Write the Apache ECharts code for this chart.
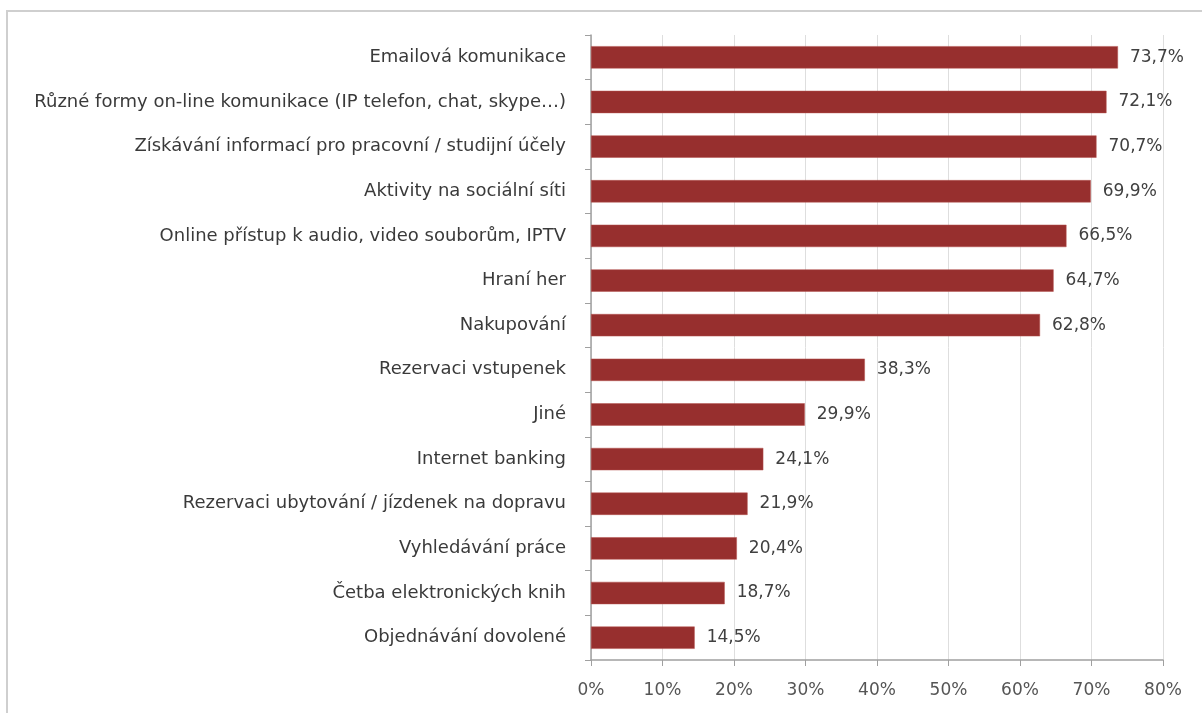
<!DOCTYPE html>
<html>
<head>
<meta charset="utf-8">
<script src="https://cdn.jsdelivr.net/npm/echarts@6/dist/echarts.min.js"></script>
<style>
  html, body { margin: 0; padding: 0; background: #fff; }
  #frame { position: absolute; left: 6px; top: 10px; width: 1200px; height: 710px; border: 2px solid #cfcfcf; box-sizing: border-box; }
  #chart { position: absolute; left: 0; top: 0; width: 1202px; height: 713px; }
</style>
</head>
<body>
<div id="frame"></div>
<div id="chart"></div>
<script>
// Activities, listed top to bottom
const categories = [
  'Emailová komunikace',
  'Různé formy on-line komunikace (IP telefon, chat, skype…)',
  'Získávání informací pro pracovní / studijní účely',
  'Aktivity na sociální síti',
  'Online přístup k audio, video souborům, IPTV',
  'Hraní her',
  'Nakupování',
  'Rezervaci vstupenek',
  'Jiné',
  'Internet banking',
  'Rezervaci ubytování / jízdenek na dopravu',
  'Vyhledávání práce',
  'Četba elektronických knih',
  'Objednávání dovolené'
];
// Share of respondents, percent
const values = [73.7, 72.1, 70.7, 69.9, 66.5, 64.7, 62.8, 38.3, 29.9, 24.1, 21.9, 20.4, 18.7, 14.5];
const xTicks = [0, 10, 20, 30, 40, 50, 60, 70, 80];

const fmt = v => v.toFixed(1).replace('.', ',') + '%';
const font = "'DejaVu Sans', 'Open Sans', sans-serif";

const chart = echarts.init(document.getElementById('chart'), null, { renderer: 'canvas' });
chart.setOption({
  animation: false,
  grid: { left: 591, right: 39, top: 35, bottom: 53 },
  xAxis: {
    type: 'value',
    min: xTicks[0],
    max: xTicks[xTicks.length - 1],
    interval: 10,
    axisLine: { show: true, lineStyle: { color: '#a0a0a0', width: 1.5 } },
    axisTick: { show: true, length: 6, lineStyle: { color: '#a0a0a0' } },
    splitLine: { show: true, lineStyle: { color: '#dedede', width: 1 } },
    axisLabel: { formatter: v => v + '%', color: '#555555', fontSize: 17, fontFamily: font, margin: 22 }
  },
  yAxis: {
    type: 'category',
    data: categories,
    inverse: true,
    axisLine: { show: true, lineStyle: { color: '#a0a0a0', width: 1.5 } },
    axisTick: { show: true, length: 6, lineStyle: { color: '#a0a0a0' } },
    axisLabel: { color: '#3a3a3a', fontSize: 18, fontFamily: font, margin: 25 }
  },
  series: [{
    type: 'bar',
    data: values,
    barCategoryGap: '50%',
    itemStyle: { color: '#972f2e', borderColor: '#b5524e', borderWidth: 0.5 },
    label: {
      show: true,
      position: 'right',
      distance: 12,
      formatter: p => fmt(p.value),
      color: '#404040',
      fontSize: 17,
      fontFamily: font
    }
  }]
});
</script>
</body>
</html>
